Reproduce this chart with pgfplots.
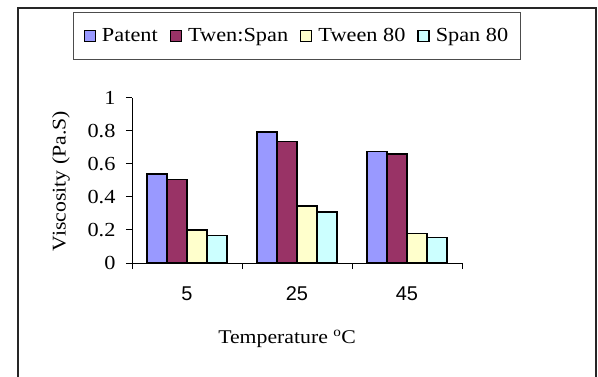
\documentclass[border=0pt]{standalone}
\usepackage{fontspec}
\setmainfont{Liberation Serif}[FakeStretch=1.12]
\newfontfamily\arialfont{Liberation Sans}
\usepackage{pgfplots}
\pgfplotsset{compat=1.18}
\definecolor{cPatent}{HTML}{9999FF}
\definecolor{cTS}{HTML}{993366}
\definecolor{cTween}{HTML}{FFFFCC}
\definecolor{cSpan}{HTML}{CCFFFF}
\begin{document}
\begin{tikzpicture}
\useasboundingbox (0bp,0bp) rectangle (598bp,377bp);
\fill[white] (0bp,0bp) rectangle (598bp,377bp);
\draw[line width=1.4bp, black!85] (18bp,-10bp) -- (18bp,369bp) -- (596bp,369bp) -- (596bp,-10bp);
\begin{axis}[
  at={(132bp,114bp)}, anchor=south west,
  scale only axis, width=330bp, height=165bp,
  font=\fontsize{19.5}{23}\selectfont,
  ybar=0pt, bar width=20bp,
  xmin=-0.5, xmax=2.5, ymin=0, ymax=1,
  axis x line*=bottom, axis y line*=left,
  axis line style={line width=1bp, -},
  tick align=outside, major tick length=6bp,
  tick style={line width=1bp, black},
  xtick={-0.5,0.5,1.5,2.5}, xticklabels={},
  extra x ticks={0,1,2}, extra x tick labels={5,25,45},
  extra x tick style={tick style={draw=none}},
  xticklabel style={font=\arialfont\fontsize{20}{24}\selectfont, yshift=-14bp},
  ytick={0,0.2,0.4,0.6,0.8,1},
  yticklabel style={xshift=-7bp, font=\fontsize{20}{24}\selectfont},
  /pgf/number format/assume math mode=true,
  xlabel={Temperature \textsuperscript{o}C},
  xlabel style={at={(axis description cs:0.47,-0.46)}, anchor=center},
  ylabel={Viscosity (Pa.S)},
  ylabel style={at={(axis description cs:-0.215,0.497)}, anchor=center, rotate=0},
  legend columns=4,
  legend style={at={(0.5,1.376)}, anchor=center, draw=black!70, line width=0.8bp,
    font=\fontsize{20}{24}\selectfont, inner xsep=10bp, inner ysep=14bp,
    /tikz/every odd column/.append style={column sep=4bp},
    /tikz/every even column/.append style={column sep=10bp}},
  legend image code/.code={\draw[#1, line width=1.3bp, draw=black] (0bp,-5.5bp) rectangle (11bp,5.5bp);},
  every axis plot/.append style={draw=black, line width=1.4bp},
]
\addplot[fill=cPatent] coordinates {(0,0.54) (1,0.795) (2,0.675)};
\addplot[fill=cTS] coordinates {(0,0.505) (1,0.735) (2,0.66)};
\addplot[fill=cTween] coordinates {(0,0.20) (1,0.345) (2,0.178)};
\addplot[fill=cSpan] coordinates {(0,0.168) (1,0.31) (2,0.156)};
\legend{Patent, Twen:Span, Tween 80, Span 80}
\end{axis}
\end{tikzpicture}
\end{document}
